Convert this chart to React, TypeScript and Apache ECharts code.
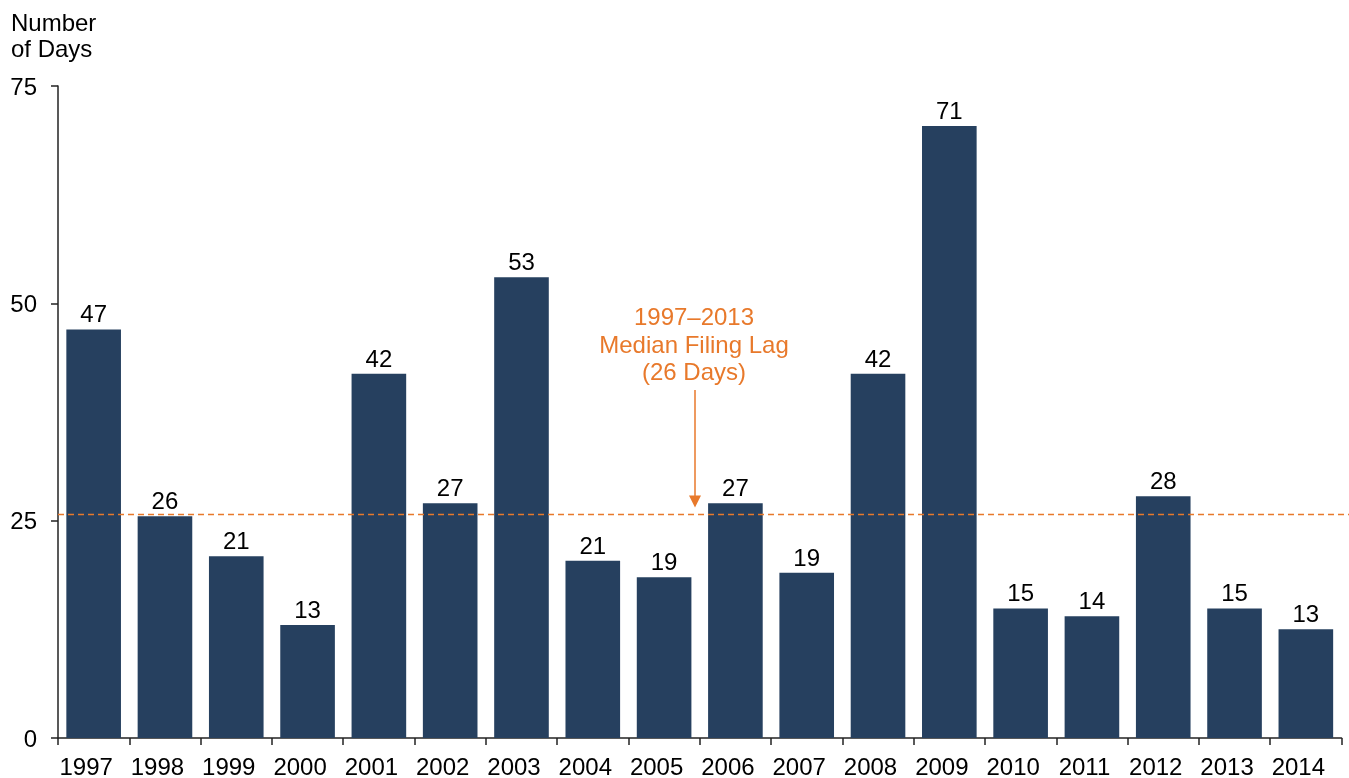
import React, { useEffect, useRef } from "react";
import * as echarts from "echarts";

const years = ["1997", "1998", "1999", "2000", "2001", "2002", "2003", "2004", "2005", "2006", "2007", "2008", "2009", "2010", "2011", "2012", "2013", "2014"];
const lagDays = [47.0, 25.5, 20.9, 13.0, 41.9, 27.0, 53.0, 20.4, 18.5, 27.0, 19.0, 41.9, 70.4, 14.9, 14.0, 27.8, 14.9, 12.5];
const dayLabels = ["47", "26", "21", "13", "42", "27", "53", "21", "19", "27", "19", "42", "71", "15", "14", "28", "15", "13"];
const yMin = 0;
const yMax = 75;
const yInterval = 25;
const medianLag = 25.7;
const annotationLines = ["1997–2013", "Median Filing Lag", "(26 Days)"];
const yAxisTitle = "Number\nof Days";

const FONT = "'Liberation Sans', Arial, sans-serif";
const BAR = "#26405F";
const ORANGE = "#E8792B";
const AXIS = "#222222";
const FS = 24;

export default function App() {
  const ref = useRef<HTMLDivElement>(null);
  useEffect(() => {
    document.body.style.margin = "0";
    const chart = echarts.init(ref.current!, null, { renderer: "svg" });
    const gridLeft = 58;
    const gridRight = 7.5;
    chart.setOption({
      animation: false,
      textStyle: { fontFamily: FONT },
      title: {
        text: yAxisTitle,
        left: 11,
        top: 9,
        padding: 0,
        textStyle: { fontFamily: FONT, fontSize: FS, fontWeight: "normal", color: "#000", lineHeight: 26 },
      },
      grid: { left: gridLeft, right: gridRight, top: 86, bottom: 38.7, containLabel: false },
      xAxis: {
        type: "category",
        data: years,
        axisLine: { lineStyle: { color: AXIS, width: 1.5 } },
        axisTick: { show: true, inside: false, length: 7, alignWithLabel: false, lineStyle: { color: AXIS, width: 1.5 } },
        axisLabel: { interval: 0, margin: 16, color: "#000", fontSize: FS, fontFamily: FONT, padding: [0, 15, 0, 0] },
      },
      yAxis: {
        type: "value",
        min: yMin,
        max: yMax,
        interval: yInterval,
        splitLine: { show: false },
        axisLine: { show: true, lineStyle: { color: AXIS, width: 1.5 } },
        axisTick: { show: true, inside: false, length: 7, lineStyle: { color: AXIS, width: 1.5 } },
        axisLabel: { margin: 21, color: "#000", fontSize: FS, fontFamily: FONT },
      },
      series: [
        {
          type: "bar",
          data: lagDays,
          barCategoryGap: "23.4%",
          itemStyle: { color: BAR },
          label: {
            show: true,
            position: "top",
            distance: 3.5,
            color: "#000",
            fontSize: FS,
            fontFamily: FONT,
            formatter: (p: any) => dayLabels[p.dataIndex],
          },
        },
      ],
    });

    const yMed = chart.convertToPixel({ yAxisIndex: 0 }, medianLag) as number;
    const width = chart.getWidth();
    const arrowX = 695;
    const arrowTip = yMed - 7;
    chart.setOption({
      graphic: [
        {
          type: "line",
          z: 100,
          shape: { x1: gridLeft, y1: yMed, x2: width, y2: yMed },
          style: { stroke: ORANGE, lineWidth: 1.5, lineDash: [6, 4] },
        },
        {
          type: "text",
          z: 100,
          x: 694,
          y: 344,
          style: {
            text: annotationLines.join("\n"),
            fill: ORANGE,
            fontSize: FS,
            fontFamily: FONT,
            lineHeight: 27.6,
            align: "center",
            verticalAlign: "middle",
          },
        },
        {
          type: "line",
          z: 100,
          shape: { x1: arrowX, y1: 390, x2: arrowX, y2: arrowTip - 10 },
          style: { stroke: ORANGE, lineWidth: 1.5 },
        },
        {
          type: "polygon",
          z: 100,
          shape: { points: [[arrowX - 6, arrowTip - 12], [arrowX + 6, arrowTip - 12], [arrowX, arrowTip]] },
          style: { fill: ORANGE },
        },
      ],
    });
    return () => chart.dispose();
  }, []);
  return <div ref={ref} style={{ position: "fixed", left: 0, top: 0, width: 1349, height: 778 }} />;
}
